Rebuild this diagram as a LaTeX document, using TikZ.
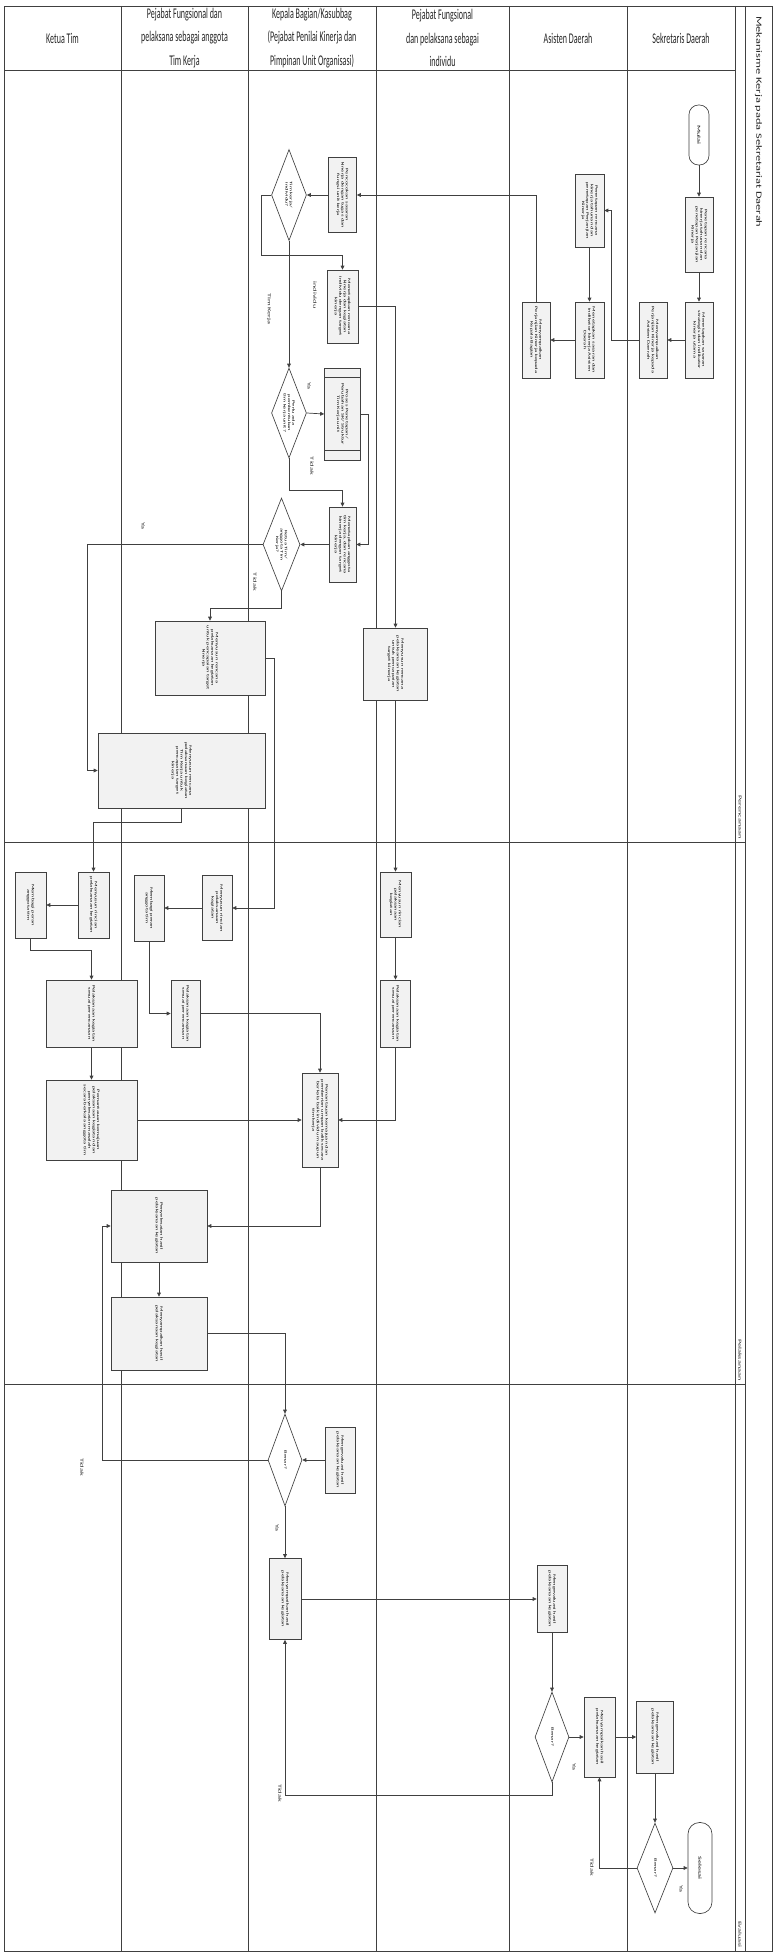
\documentclass[tikz,border=0pt]{standalone}
\usepackage{fontspec}
\setmainfont{Carlito}
\usetikzlibrary{shapes.geometric,arrows.meta,calc}
\definecolor{ln}{HTML}{404040}
\definecolor{bxfill}{HTML}{F2F2F2}
\newcommand\bt[2]{\rotatebox{-90}{\scalebox{1.8}[1]{\parbox{\dimexpr #1pt*10/18-5pt\relax}{\centering\fontsize{3.6}{4.4}\selectfont #2}}}}
\newcommand\dt[2]{\rotatebox{-90}{\scalebox{1.8}[1]{\parbox{#1pt}{\centering\fontsize{3.6}{4.4}\selectfont #2}}}}
\newcommand\lb[1]{\rotatebox{-90}{\scalebox{1.8}[1]{\fontsize{4.6}{5}\selectfont #1}}}
\newcommand\hd[1]{\scalebox{1}[1.85]{\parbox{124pt}{\centering\fontsize{8}{12.6}\selectfont #1}}}
\begin{document}
\begin{tikzpicture}[x=1pt,y=-1pt,
  frame/.style={draw=ln,line width=0.75pt},
  bx/.style={draw=ln,fill=bxfill,line width=0.65pt,rectangle,inner sep=0pt},
  dec/.style={draw=ln,fill=white,line width=0.65pt,diamond,inner sep=0pt,shape aspect=0.4},
  term/.style={draw=ln,fill=white,line width=0.65pt,rectangle,inner sep=0pt},
  arr/.style={draw=ln,line width=0.7pt,-{Triangle[length=4pt,width=3.8pt]}},
  tag/.style={inner sep=0pt,text=black!85}
]
\useasboundingbox (0,0) rectangle (775,1953);
\fill[white] (0,0) rectangle (775,1953);

% ---------- frame, lanes, phases ----------
\draw[frame] (4,6) rectangle (772,1951);
\foreach \x in {121,248,376,509,627,735,745} \draw[frame] (\x,6) -- (\x,1951);
\draw[frame] (4,70) -- (735,70);
\draw[frame] (4,842) -- (745,842);
\draw[frame] (4,1384) -- (745,1384);

\node[tag] (h1) at (62.5,38) {\hd{Ketua Tim}};
\node[tag] (h2) at (184.5,38) {\hd{Pejabat Fungsional dan\\pelaksana sebagai anggota\\Tim Kerja}};
\node[tag] (h3) at (312,38) {\hd{Kepala Bagian/Kasubbag\\(Pejabat Penilai Kinerja dan\\Pimpinan Unit Organisasi)}};
\node[tag] (h4) at (442.5,38) {\hd{Pejabat Fungsional\\dan pelaksana sebagai\\individu}};
\node[tag] (h5) at (568,38) {\hd{Asisten Daerah}};
\node[tag] (h6) at (681,38) {\hd{Sekretaris Daerah}};

\node[tag,anchor=north] (title) at (758.5,16) {\rotatebox{-90}{\scalebox{1.55}[1]{\fontsize{8}{9}\selectfont Mekanisme Kerja pada Sekretariat Daerah}}};
\node[tag,anchor=south] (ph1) at (740,839) {\lb{Perencanaan}};
\node[tag,anchor=south] (ph2) at (740,1381) {\lb{Pelaksanaan}};
\node[tag,anchor=south] (ph3) at (740,1948) {\lb{Evaluasi}};

% ---------- Perencanaan ----------
\node[term,rounded corners=9.5pt,minimum width=20pt,minimum height=60pt] (mulai) at (699,135) {\lb{Mulai}};
\node[bx,minimum width=28pt,minimum height=75pt] (sk0) at (699,234.5) {\bt{75}{Penetapan rencana kinerja tahunan dan penetapan Perjanjian Kinerja}};
\node[bx,minimum width=28pt,minimum height=76pt] (sk2) at (699,340) {\bt{76}{Menetapkan sasaran strategis dan indikator kinerja utama}};
\node[bx,minimum width=28pt,minimum height=76pt] (sk3) at (653,340) {\bt{76}{Menyampaikan Perjanjian Kinerja kepada Asisten Daerah}};
\node[bx,minimum width=29pt,minimum height=73pt] (as0) at (589.5,210.5) {\bt{73}{Penetapan rencana kinerja tahunan dan penetapan Perjanjian Kinerja}};
\node[bx,minimum width=29pt,minimum height=76pt] (as3) at (589.5,340) {\bt{76}{Menetapkan sasaran dan indikator kinerja Asisten Daerah}};
\node[bx,minimum width=28pt,minimum height=76pt] (as4) at (536,340) {\bt{76}{Menyampaikan Perjanjian Kinerja kepada Kepala Bagian}};

\node[bx,minimum width=28pt,minimum height=75pt] (k1) at (342.5,195) {\bt{75}{Pencocokan sasaran kinerja dengan tugas dan fungsi unit kerja}};
\node[dec,minimum width=35pt,minimum height=91pt] (d1) at (289,195) {\dt{20}{Tim kerja/ individu?}};
\node[bx,minimum width=31pt,minimum height=73pt] (k2) at (342.5,306.5) {\bt{73}{Menetapkan rencana kinerja dan kegiatan individu dengan target kinerja}};
\node[dec,minimum width=35pt,minimum height=90pt] (d2) at (289,413) {\dt{24}{Perlu ada pembentukan tim kerja unit?}};
\node[bx,minimum width=36pt,minimum height=92pt] (k3) at (342.5,414) {\bt{80}{Proses Penetapan/ Perubahan SK/ Struktur Tim Kerja unit}};
\draw[ln,line width=0.6pt] ([yshift=-10pt]k3.north west) -- ([yshift=-10pt]k3.north east);
\draw[ln,line width=0.6pt] ([yshift=10pt]k3.south west) -- ([yshift=10pt]k3.south east);
\node[bx,minimum width=27pt,minimum height=75pt] (k4) at (342.5,544.5) {\bt{75}{Menetapkan anggota tim kerja, dan rencana kinerja dengan target kinerja}};
\node[dec,minimum width=37pt,minimum height=93pt] (d3) at (281.5,544.5) {\dt{24}{Ketua Tim/ anggota Tim Kerja?}};

\node[bx,minimum width=110pt,minimum height=74pt] (a1) at (210,658) {\bt{74}{Menyusun rencana pelaksanaan kegiatan untuk pencapaian target kinerja}};
\node[bx,minimum width=64pt,minimum height=72pt] (i1) at (395.5,664) {\bt{72}{Menyusun rencana pelaksanaan kegiatan untuk pencapaian target kinerja}};
\node[bx,minimum width=167pt,minimum height=75pt] (b1) at (181.5,770.5) {\bt{75}{Menyusun rencana pelaksanaan kegiatan Tim Kerja untuk pencapaian target kinerja}};

% ---------- Pelaksanaan ----------
\node[bx,minimum width=31pt,minimum height=66pt] (t0) at (30.5,905) {\bt{66}{Membagi peran anggota tim}};
\node[bx,minimum width=31pt,minimum height=66pt] (t1) at (93.5,905) {\bt{66}{Menyusun rincian pelaksanaan kegiatan}};
\node[bx,minimum width=30pt,minimum height=66pt] (a3) at (149,908) {\bt{66}{Membagi peran anggota tim}};
\node[bx,minimum width=30pt,minimum height=65pt] (a2) at (217,908) {\bt{65}{Menyusun rincian pelaksanaan kegiatan}};
\node[bx,minimum width=31pt,minimum height=65pt] (i2) at (395.5,904.5) {\bt{65}{Menyusun rincian pelaksanaan kegiatan}};

\node[bx,minimum width=91pt,minimum height=67pt] (t2) at (91.5,1013.5) {\bt{67}{Pelaksanaan kegiatan sesuai perencanaan}};
\node[bx,minimum width=29pt,minimum height=67pt] (a4) at (185.5,1013.5) {\bt{67}{Pelaksanaan kegiatan sesuai perencanaan}};
\node[bx,minimum width=30pt,minimum height=67pt] (i3) at (395.5,1013.5) {\bt{67}{Pelaksanaan kegiatan sesuai perencanaan}};

\node[bx,minimum width=91pt,minimum height=80pt] (t3) at (91.5,1120) {\bt{80}{Pemantauan kemajuan pelaksanaan kegiatan dan penyelesaian masalah secara berkala anggota tim}};
\node[bx,minimum width=36pt,minimum height=94pt] (k5) at (320,1120) {\bt{94}{Pemantauan kemajuan dan pemberian umpan balik secara berkala baik individu maupun tim kerja}};
\node[bx,minimum width=96pt,minimum height=72pt] (t4) at (159,1226) {\bt{72}{Penyelesaian hasil pelaksanaan kegiatan}};
\node[bx,minimum width=96pt,minimum height=73pt] (t5) at (159,1333.5) {\bt{73}{Menyampaikan hasil pelaksanaan kegiatan}};

% ---------- Evaluasi ----------
\node[dec,minimum width=34pt,minimum height=92pt] (d4) at (285,1460) {\dt{18}{Benar?}};
\node[bx,minimum width=30pt,minimum height=66pt] (k6) at (340,1460) {\bt{66}{Mengevaluasi hasil pelaksanaan kegiatan}};
\node[bx,minimum width=32pt,minimum height=81pt] (k7) at (285,1599) {\bt{81}{Menyampaikan hasil pelaksanaan kegiatan}};
\node[bx,minimum width=30pt,minimum height=67pt] (as1) at (552,1599) {\bt{67}{Mengevaluasi hasil pelaksanaan kegiatan}};
\node[dec,minimum width=34pt,minimum height=90pt] (d5) at (552,1737) {\dt{18}{Benar?}};
\node[bx,minimum width=31pt,minimum height=80pt] (as2) at (599.5,1737) {\bt{80}{Menyampaikan hasil pelaksanaan kegiatan}};
\node[bx,minimum width=37pt,minimum height=72pt] (sk1) at (655,1737) {\bt{72}{Mengevaluasi hasil pelaksanaan kegiatan}};
\node[dec,minimum width=36pt,minimum height=90pt] (d6) at (655,1868) {\dt{18}{Benar?}};
\node[term,rounded corners=11.5pt,minimum width=24pt,minimum height=91pt] (selesai) at (700,1868) {\lb{Selesai}};

% ---------- connectors ----------
\draw[arr] (mulai.south) -- (sk0.north);
\draw[arr] (sk0.south) -- (sk2.north);
\draw[arr] (sk2.west) -- (sk3.east);
\draw[arr] (sk3.west) -- ++(-27,0) |- (as0.east);
\draw[arr] (as0.south) -- (as3.north);
\draw[arr] (as3.west) -- (as4.east);
\draw[arr] (as4.north) |- (k1.east);
\draw[arr] (k1.west) -- (d1.east);
\draw[arr] (d1.south) -- (d2.north);
\draw[arr] (d1.west) -- ++(-9.5,0) -- ++(0,60) -| (k2.north);
\draw[arr] (k2.east) -| (i1.north);
\draw[arr] (d2.east) -- (k3.west);
\draw[arr] (d2.south) -- ++(0,32) -| (k4.north);
\draw[arr] (k3.east) -- ++(8,0) |- (k4.east);
\draw[arr] (k4.west) -- (d3.east);
\draw[arr] (d3.west) -- ++(-175,0) |- (b1.west);
\draw[arr] (d3.south) -- ++(0,17) -| (a1.north);
\draw[arr] (a1.east) -- ++(9,0) |- (a2.east);
\draw[arr] (b1.south) -- ++(0,14) -| (t1.north);
\draw[arr] (i1.south) -- (i2.north);
\draw[arr] (t1.west) -- (t0.east);
\draw[arr] (a2.west) -- (a3.east);
\draw[arr] (t0.south) -- ++(0,12) -| (t2.north);
\draw[arr] (a3.south) |- (a4.west);
\draw[arr] (i2.south) -- (i3.north);
\draw[arr] (t2.south) -- (t3.north);
\draw[arr] (a4.east) -| (k5.north);
\draw[arr] (i3.south) |- (k5.east);
\draw[arr] (t3.east) -- (k5.west);
\draw[arr] (k5.south) |- (t4.east);
\draw[arr] (t4.south) -- (t5.north);
\draw[arr] (t5.east) -| (d4.north);
\draw[arr] (k6.west) -- (d4.east);
\draw[arr] (d4.west) -- ++(-165,0) |- (t4.west);
\draw[arr] (d4.south) -- (k7.north);
\draw[arr] (k7.east) -- (as1.west);
\draw[arr] (as1.south) -- (d5.north);
\draw[arr] (d5.east) -- (as2.west);
\draw[arr] (d5.south) -- ++(0,13) -| (k7.south);
\draw[arr] (as2.east) -- (sk1.west);
\draw[arr] (sk1.south) -- (d6.north);
\draw[arr] (d6.east) -- (selesai.west);
\draw[arr] (d6.west) -| (as2.south);

% ---------- branch labels ----------
\node[tag] (l1) at (269,309) {\lb{Tim Kerja}};
\node[tag] (l2) at (315,295) {\lb{individu}};
\node[tag] (l3) at (309,386) {\lb{Ya}};
\node[tag] (l4) at (312,466) {\lb{Tidak}};
\node[tag] (l5) at (143,526) {\lb{Ya}};
\node[tag] (l6) at (255,582) {\lb{Tidak}};
\node[tag] (l7) at (82,1467) {\lb{Tidak}};
\node[tag] (l8) at (277,1528) {\lb{Ya}};
\node[tag] (l9) at (280,1793) {\lb{Tidak}};
\node[tag] (l10) at (574,1767) {\lb{Ya}};
\node[tag] (l11) at (592,1867) {\lb{Tidak}};
\node[tag] (l12) at (681,1889) {\lb{Ya}};
\end{tikzpicture}
\end{document}
